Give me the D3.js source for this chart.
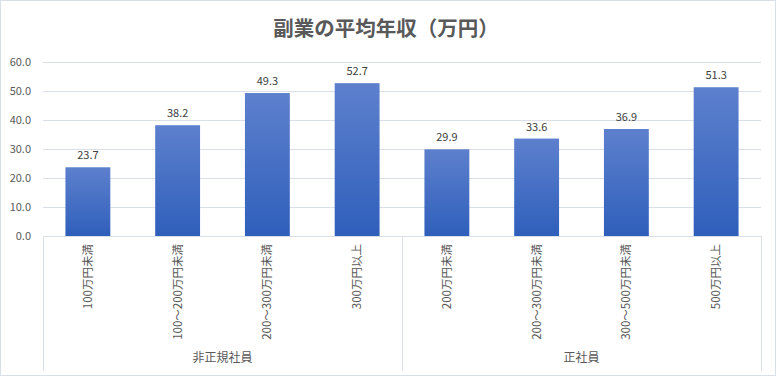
<!DOCTYPE html>
<html>
<head>
<meta charset="utf-8">
<script src="https://cdn.jsdelivr.net/npm/d3@7"></script>
<style>
  body { margin: 0; background: #fff; }
  svg text { font-family: "Noto Sans CJK JP", "Noto Sans", sans-serif; }
</style>
</head>
<body>
<svg id="chart" width="776" height="377"></svg>
<script>
// data
const categories = ["100万円未満", "100～200万円未満", "200～300万円未満", "300万円以上",
  "200万円未満", "200～300万円未満", "300～500万円未満", "500万円以上"];
const groups = ["非正規社員", "非正規社員", "非正規社員", "非正規社員", "正社員", "正社員", "正社員", "正社員"];
const groupNames = ["非正規社員", "正社員"];
const values = [23.7, 38.2, 49.3, 52.7, 29.9, 33.6, 36.9, 51.3];
const yTicks = [0, 10, 20, 30, 40, 50, 60];

const svg = d3.select("#chart");
const plotL = 43, plotR = 761, plotT = 62, plotB = 236;

svg.append("rect")
  .attr("x", 0.5).attr("y", 0.5).attr("width", 775).attr("height", 375)
  .attr("fill", "#fff").attr("stroke", "#dadee6");

svg.append("text")
  .attr("x", 386).attr("y", 36)
  .attr("text-anchor", "middle")
  .attr("font-size", 20.5).attr("font-weight", "bold")
  .attr("fill", "#595959")
  .text("副業の平均年収（万円）");

const x = d3.scaleBand().domain(d3.range(categories.length)).range([plotL, plotR]).paddingInner(0.5).paddingOuter(0.25);
const y = d3.scaleLinear().domain([0, 60]).range([plotB, plotT]);

// gridlines
svg.append("g").selectAll("line").data(yTicks).enter().append("line")
  .attr("x1", plotL).attr("x2", plotR)
  .attr("y1", d => Math.round(y(d)) + 0.5).attr("y2", d => Math.round(y(d)) + 0.5)
  .attr("stroke", "#dadee6");

svg.append("g").selectAll("text").data(yTicks).enter().append("text")
  .attr("x", 31).attr("y", d => y(d) + 4)
  .attr("text-anchor", "end")
  .attr("font-size", 11).attr("fill", "#595959")
  .text(d => d3.format(".1f")(d));

const grad = svg.append("defs").append("linearGradient")
  .attr("id", "barGrad").attr("x1", 0).attr("y1", 0).attr("x2", 0).attr("y2", 1);
grad.append("stop").attr("offset", "0%").attr("stop-color", "#5d80cd");
grad.append("stop").attr("offset", "100%").attr("stop-color", "#2f5fbb");

svg.append("g").selectAll("rect").data(values).enter().append("rect")
  .attr("x", (d, i) => x(i))
  .attr("y", d => y(d))
  .attr("width", x.bandwidth())
  .attr("height", d => plotB - y(d))
  .attr("fill", "url(#barGrad)");

svg.append("g").selectAll("text").data(values).enter().append("text")
  .attr("x", (d, i) => x(i) + x.bandwidth() / 2)
  .attr("y", d => y(d) - 8)
  .attr("text-anchor", "middle")
  .attr("font-size", 11).attr("fill", "#404040")
  .text(d => d.toFixed(1));

// category axis
const step = x.step();
svg.append("line")
  .attr("x1", plotL).attr("x2", plotR).attr("y1", plotB + 0.5).attr("y2", plotB + 0.5)
  .attr("stroke", "#dadee6");
[0, 4, 8].forEach(k => {
  const xx = Math.round(plotL + k * step) + 0.5;
  svg.append("line")
    .attr("x1", xx).attr("x2", xx).attr("y1", plotB).attr("y2", 371)
    .attr("stroke", "#dadee6");
});

svg.append("g").selectAll("text").data(categories).enter().append("text")
  .attr("transform", (d, i) => `translate(${x(i) + x.bandwidth() / 2 + 4},244) rotate(-90)`)
  .attr("text-anchor", "end")
  .attr("font-size", 11.5).attr("fill", "#595959")
  .text(d => d);

svg.append("g").selectAll("text").data(groupNames).enter().append("text")
  .attr("x", (d, i) => plotL + (i * 4 + 2) * step)
  .attr("y", 362)
  .attr("text-anchor", "middle")
  .attr("font-size", 12).attr("fill", "#595959")
  .text(d => d);
</script>
</body>
</html>
